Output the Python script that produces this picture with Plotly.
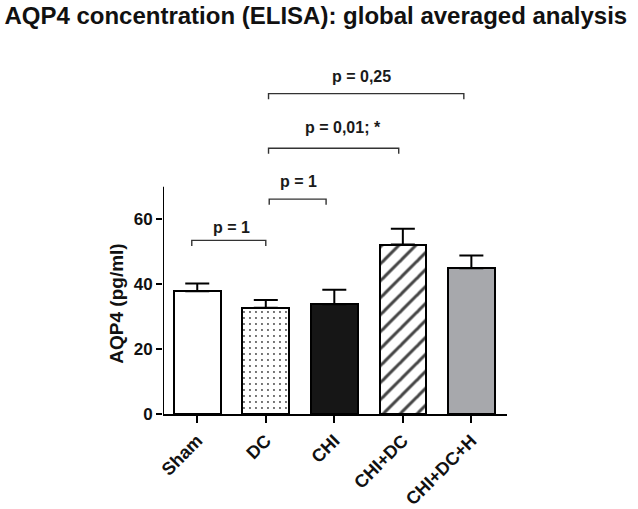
import plotly.graph_objects as go

categories = ["Sham", "DC", "CHI", "CHI+DC", "CHI+DC+H"]
means = [37.8, 32.7, 33.8, 52.2, 44.9]
sem = [2.4, 2.4, 4.5, 4.9, 3.9]
fill_colors = ["white", "white", "#161616", "white", "#a7a8ac"]
patterns = ["", ".", "", "/", ""]

# comparison brackets: start, end, height, label, label position
cmp_from = [-0.08, 1.05, 1.04, 1.04]
cmp_to = [1.0, 1.88, 2.94, 3.89]
cmp_y = [53.5, 66.2, 81.9, 98.7]
cmp_labels = ["p = 1", "p = 1", "p = 0,01; *", "p = 0,25"]
cmp_label_x = [0.5, 1.47, 2.13, 2.4]
cmp_label_y = [57.6, 71.5, 88.4, 104.0]

yticks = [0, 20, 40, 60]
y_axis_top = 70

FONT = "Liberation Sans, Arial, sans-serif"
x = list(range(len(categories)))

fig = go.Figure()
fig.add_trace(go.Bar(
    x=x, y=means, width=0.68,
    marker=dict(
        color=fill_colors,
        line=dict(color="black", width=2),
        pattern=dict(shape=patterns, fgcolor="black", fgopacity=1, fillmode="overlay",
                     size=[8, 6, 8, 12, 8], solidity=[0.3, 0.08, 0.3, 0.25, 0.3]),
    ),
    error_y=dict(type="data", array=sem, arrayminus=[0] * len(sem), symmetric=False,
                 color="black", thickness=2, width=12),
    showlegend=False,
))

shapes = []
shapes.append(dict(type="line", xref="x", yref="y", x0=-0.5, x1=-0.5, y0=0, y1=y_axis_top,
                   line=dict(color="black", width=2)))
for a, b, h in zip(cmp_from, cmp_to, cmp_y):
    d = 1.7
    shapes.append(dict(type="path", xref="x", yref="y",
                       path=f"M {a},{h-d} L {a},{h} L {b},{h} L {b},{h-d}",
                       line=dict(color="#333333", width=1.4)))
fig.update_layout(shapes=shapes)

for lx, ly, t in zip(cmp_label_x, cmp_label_y, cmp_labels):
    fig.add_annotation(x=lx, y=ly, xref="x", yref="y", text=t, showarrow=False,
                       font=dict(family=FONT, size=16, color="#1a1a1a", weight="bold"))

# y axis title as annotation, centred on the drawn axis segment
fig.add_annotation(x=0, xref="paper", y=34, yref="y", text="AQP4 (pg/ml)", textangle=-90,
                   showarrow=False, xanchor="center", yanchor="middle", xshift=-46,
                   font=dict(family=FONT, size=19, color="#111111", weight="bold"))

fig.update_layout(
    width=638, height=509,
    margin=dict(l=163, r=131, t=57, b=95, autoexpand=False),
    plot_bgcolor="white", paper_bgcolor="white",
    title=dict(text="AQP4 concentration (ELISA): global averaged analysis",
               xref="container", x=0.495, xanchor="center", yref="container", y=0.969,
               yanchor="middle", automargin=False,
               font=dict(family=FONT, size=24, color="#111111", weight="bold")),
    bargap=0,
)
fig.update_xaxes(range=[-0.5, 4.52], tickvals=x, ticktext=categories, tickangle=-45,
                 automargin=False,
                 showline=True, linecolor="black", linewidth=2, ticks="outside",
                 ticklen=7, tickwidth=2, tickcolor="black", showgrid=False, zeroline=False,
                 tickfont=dict(family=FONT, size=18, color="#111111", weight="bold"))
fig.update_yaxes(range=[0, 110], tickvals=yticks, showline=False, ticks="outside",
                 automargin=False,
                 ticklen=6, tickwidth=2, tickcolor="black", showgrid=False, zeroline=False,
                 tickfont=dict(family=FONT, size=17, color="#111111", weight="bold"))

fig.write_html("out.html", config={"displayModeBar": False},
               post_script="document.body.style.margin='0';document.body.style.overflow='hidden';")
